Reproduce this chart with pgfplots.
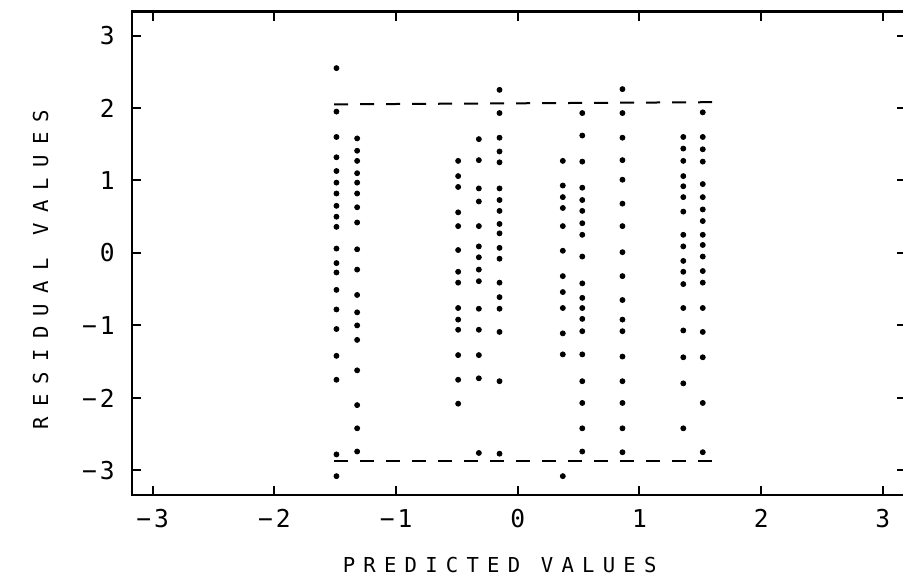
\documentclass[border=0pt]{standalone}
\usepackage{fontspec}
\setmonofont{DejaVu Sans Mono}
\usepackage{pgfplots}
\pgfplotsset{compat=1.18}
\pgfplotstableread{
x y
-1.49 2.55
-1.49 1.95
-1.49 1.60
-1.49 1.32
-1.49 1.13
-1.49 0.97
-1.49 0.82
-1.49 0.65
-1.49 0.50
-1.49 0.36
-1.49 0.06
-1.49 -0.14
-1.49 -0.27
-1.49 -0.51
-1.49 -0.78
-1.49 -1.05
-1.49 -1.42
-1.49 -1.75
-1.49 -2.78
-1.49 -3.08
-1.32 1.58
-1.32 1.41
-1.32 1.27
-1.32 1.10
-1.32 0.97
-1.32 0.82
-1.32 0.63
-1.32 0.42
-1.32 0.05
-1.32 -0.23
-1.32 -0.58
-1.32 -0.82
-1.32 -1.00
-1.32 -1.20
-1.32 -1.62
-1.32 -2.10
-1.32 -2.42
-1.32 -2.74
-0.49 1.27
-0.49 1.06
-0.49 0.91
-0.49 0.56
-0.49 0.37
-0.49 0.04
-0.49 -0.26
-0.49 -0.41
-0.49 -0.76
-0.49 -0.92
-0.49 -1.06
-0.49 -1.41
-0.49 -1.75
-0.49 -2.08
-0.32 1.57
-0.32 1.28
-0.32 0.89
-0.32 0.71
-0.32 0.37
-0.32 0.09
-0.32 -0.06
-0.32 -0.23
-0.32 -0.39
-0.32 -0.77
-0.32 -1.06
-0.32 -1.41
-0.32 -1.73
-0.32 -2.76
-0.15 2.25
-0.15 1.93
-0.15 1.59
-0.15 1.40
-0.15 1.25
-0.15 0.89
-0.15 0.73
-0.15 0.58
-0.15 0.40
-0.15 0.27
-0.15 0.07
-0.15 -0.08
-0.15 -0.41
-0.15 -0.61
-0.15 -0.77
-0.15 -1.09
-0.15 -1.77
-0.15 -2.77
0.37 1.27
0.37 0.93
0.37 0.77
0.37 0.62
0.37 0.37
0.37 0.03
0.37 -0.32
0.37 -0.54
0.37 -0.76
0.37 -1.11
0.37 -1.40
0.37 -3.08
0.53 1.93
0.53 1.62
0.53 1.26
0.53 0.90
0.53 0.73
0.53 0.58
0.53 0.41
0.53 0.25
0.53 -0.05
0.53 -0.42
0.53 -0.62
0.53 -0.76
0.53 -0.91
0.53 -1.08
0.53 -1.40
0.53 -1.77
0.53 -2.07
0.53 -2.42
0.53 -2.74
0.86 2.26
0.86 1.93
0.86 1.59
0.86 1.28
0.86 1.01
0.86 0.68
0.86 0.37
0.86 0.01
0.86 -0.32
0.86 -0.65
0.86 -0.92
0.86 -1.08
0.86 -1.43
0.86 -1.77
0.86 -2.07
0.86 -2.42
0.86 -2.75
1.36 1.60
1.36 1.44
1.36 1.27
1.36 1.06
1.36 0.92
1.36 0.77
1.36 0.57
1.36 0.25
1.36 0.09
1.36 -0.11
1.36 -0.26
1.36 -0.43
1.36 -0.76
1.36 -1.07
1.36 -1.44
1.36 -1.80
1.36 -2.42
1.52 1.94
1.52 1.60
1.52 1.43
1.52 1.26
1.52 0.95
1.52 0.77
1.52 0.60
1.52 0.44
1.52 0.25
1.52 0.11
1.52 -0.05
1.52 -0.25
1.52 -0.41
1.52 -0.76
1.52 -1.09
1.52 -1.44
1.52 -2.07
1.52 -2.75
}\residuals
\begin{document}
\begin{tikzpicture}
\begin{axis}[
  scale only axis,
  width=387pt, height=241.7pt,
  xmin=-3.17, xmax=3.19, ymin=-3.34, ymax=3.33,
  axis line style={line width=1.1pt, -},
  xtick={-3,-2,-1,0,1,2,3}, ytick={-3,-2,-1,0,1,2,3},
  xticklabels={−3,−2,−1,0,1,2,3},
  yticklabels={−3,−2,−1,0,1,2,3},
  tick style={line width=1pt, black},
  major tick length=4.5pt,
  tick align=inside,
  xticklabel style={font=\ttfamily\fontsize{12.3}{14}\selectfont\addfontfeatures{LetterSpace=12}, anchor=north, inner sep=0pt, yshift=-7pt},
  yticklabel style={font=\ttfamily\fontsize{12.3}{14}\selectfont\addfontfeatures{LetterSpace=12}, anchor=east, inner sep=0pt, xshift=-8.5pt},
  xlabel={PREDICTED VALUES},
  ylabel={RESIDUAL VALUES},
  every axis x label/.style={at={(axis description cs:0.475,-0.144)}, anchor=center, font=\ttfamily\fontsize{10.3}{12}\selectfont\addfontfeatures{LetterSpace=40}},
  every axis y label/.style={at={(axis description cs:-0.118,0.466)}, anchor=center, rotate=90, font=\ttfamily\fontsize{10.3}{12}\selectfont\addfontfeatures{LetterSpace=50}},
  clip=false,
]
\addplot[only marks, mark=*, mark size=1.25pt, black] table[x=x, y=y] {\residuals};
\addplot[black, line width=1pt, dash pattern=on 7pt off 6pt] coordinates {(-1.51,2.05) (1.60,2.08)};
\addplot[black, line width=1pt, dash pattern=on 7pt off 6pt] coordinates {(-1.51,-2.87) (1.62,-2.87)};
\end{axis}
\pgfresetboundingbox
\path[use as bounding box] (current axis.south west) ++(-66pt,-43pt) rectangle ++(451.5pt,290.5pt);
\end{tikzpicture}
\end{document}
